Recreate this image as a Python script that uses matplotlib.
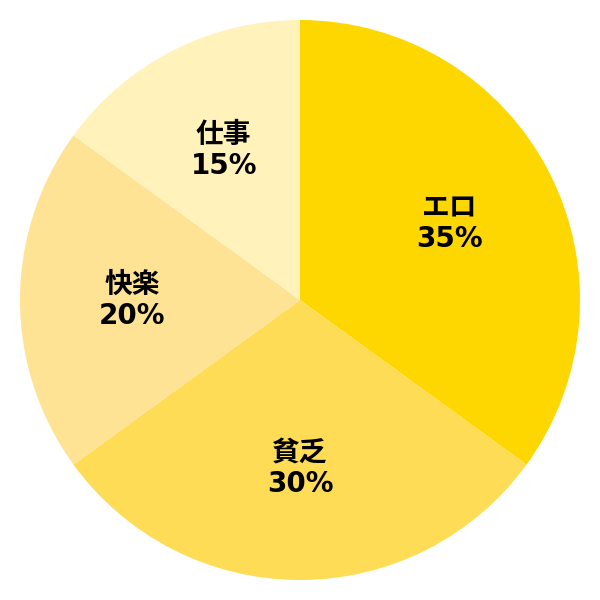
import matplotlib
matplotlib.use("Agg")
import matplotlib.pyplot as plt

labels = ["エロ", "貧乏", "快楽", "仕事"]
values = [35, 30, 20, 15]
colors = ["#FFD700", "#FFDC55", "#FFE394", "#FFF3BB"]

plt.rcParams['font.family'] = ['DejaVu Sans', 'Noto Sans CJK JP']

fig = plt.figure(figsize=(6, 6), dpi=100)
ax = fig.add_axes([0, 0, 1, 1])
texts = [f"{l}\n{v}%" for l, v in zip(labels, values)]
wedges, tx = ax.pie(values, colors=colors, startangle=90, counterclock=False,
                    labels=texts, labeldistance=0.6,
                    wedgeprops=dict(linewidth=0),
                    textprops=dict(fontsize=20, fontweight='bold', ha='center', va='center',
                                   linespacing=1.15))
for t in tx:
    t.set_horizontalalignment('center')
lim = 300 / 280
ax.set_xlim(-lim, lim)
ax.set_ylim(-lim, lim)
ax.set_aspect('equal')
ax.axis('off')
fig.savefig("out.png", dpi=100, facecolor="white")
